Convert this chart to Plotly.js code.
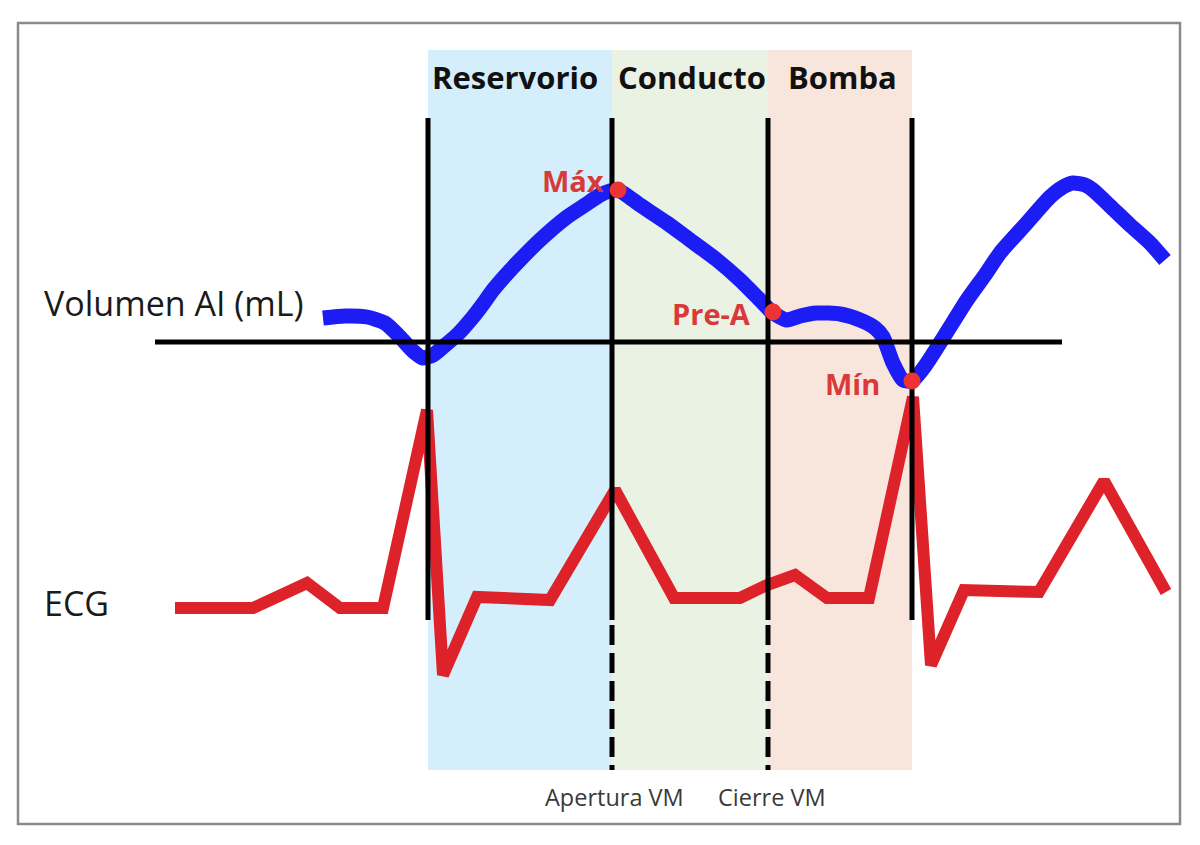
<!DOCTYPE html>
<html>
<head>
<meta charset="utf-8">
<script src="https://cdn.plot.ly/plotly-3.0.1.min.js"></script>
<style>html,body{margin:0;padding:0;background:#fff;}#chart{width:1200px;height:845px;}</style>
</head>
<body>
<div id="chart"></div>
<script>
// Time axis (arbitrary units) and signal level (arbitrary units, downward = larger)
const volTime = [323, 345, 367, 385, 400, 413, 423, 433, 443, 458, 473, 483, 493, 505, 517, 540, 567, 585, 600, 610, 618, 640, 667, 690, 717, 740, 760, 773, 787, 800, 817, 840, 860, 875, 883, 893, 903, 912, 925, 945, 967, 985, 1000, 1025, 1050, 1063, 1073, 1085, 1093, 1110, 1130, 1150, 1165];
const volValue = [318, 316, 317, 323, 337, 351, 358, 355, 347, 334, 317, 304, 290, 276, 263, 240, 217, 205, 195, 191, 190, 205, 223, 240, 260, 280, 300, 313, 320, 316, 313, 314, 320, 328, 337, 363, 380, 381, 366, 335, 300, 275, 253, 225, 197, 187, 183, 185, 190, 206, 225, 243, 260];

const ecgTime = [175, 253, 307, 340, 383, 427, 443, 477, 550, 615, 674, 740, 767, 795, 827, 869, 913, 931, 964, 1039, 1104, 1166];
const ecgValue = [608, 608, 583, 608, 608, 410, 675, 597, 600, 490, 598, 598, 585, 575, 598, 598, 397, 665, 590, 592, 481, 592];

const baselineTime = [155, 1062];
const baselineValue = [342, 342];

const phaseNames = ["Reservorio", "Conducto", "Bomba"];
const phaseBounds = [428, 612, 768, 912];
const phaseColors = ["#d5eefb", "#eaf2e4", "#f8e6dc"];
const phaseTop = 50, phaseBottom = 770;
const lineTop = 118, lineSolidEnd = 620;

const eventLabels = ["Apertura VM", "Cierre VM"];
const eventTimes = [612, 768];

const pointNames = ["Máx", "Pre-A", "Mín"];
const pointTime = [618, 773, 912];
const pointValue = [190, 312, 381];

const traces = [];
traces.push({x: volTime, y: volValue, mode: "lines", line: {color: "#1c1cf5", width: 15, shape: "spline", smoothing: 0.6}, hoverinfo: "skip"});
traces.push({x: ecgTime, y: ecgValue, mode: "lines", line: {color: "#de2229", width: 12, shape: "linear"}, hoverinfo: "skip"});
traces.push({x: baselineTime, y: baselineValue, mode: "lines", line: {color: "#000", width: 5}, hoverinfo: "skip"});
phaseBounds.forEach(t => {
  traces.push({x: [t, t], y: [lineTop, lineSolidEnd], mode: "lines", line: {color: "#000", width: 5}, hoverinfo: "skip"});
});
eventTimes.forEach(t => {
  traces.push({x: [t, t], y: [lineSolidEnd + 5, phaseBottom], mode: "lines", line: {color: "#000", width: 5, dash: "20px,8px"}, hoverinfo: "skip"});
});
traces.push({x: pointTime, y: pointValue, mode: "markers", marker: {color: "#ec3434", size: 17}, hoverinfo: "skip"});

const shapes = [];
for (let i = 0; i < phaseNames.length; i++) {
  shapes.push({type: "rect", xref: "x", yref: "y", x0: phaseBounds[i], x1: phaseBounds[i+1], y0: phaseTop, y1: phaseBottom, fillcolor: phaseColors[i], line: {width: 0}, layer: "below"});
}
shapes.push({type: "rect", xref: "paper", yref: "paper", x0: 18/1200, x1: 1180/1200, y0: 1 - 23/845, y1: 1 - 824/845, line: {color: "#8a8a8a", width: 2.5}, fillcolor: "rgba(0,0,0,0)"});

const annotations = [];
const F = "Open Sans, sans-serif";
const headerLeft = [430, 616, 786];
for (let i = 0; i < phaseNames.length; i++) {
  annotations.push({x: headerLeft[i], y: 77, xref: "x", yref: "y", text: "<b>" + phaseNames[i] + "</b>", showarrow: false, font: {family: F, size: 31, color: "#111"}, xanchor: "left", yanchor: "middle"});
}
const eventLeft = [543, 716];
eventLabels.forEach((lab, i) => {
  annotations.push({x: eventLeft[i], y: 797, xref: "x", yref: "y", text: lab, showarrow: false, font: {family: F, size: 23.5, color: "#3a3a3a"}, xanchor: "left", yanchor: "middle"});
});
const labelDx = [-12, -20, -30];
const labelDy = [-10, 1, 2];
pointNames.forEach((n, i) => {
  annotations.push({x: pointTime[i] + labelDx[i], y: pointValue[i] + labelDy[i], xref: "x", yref: "y", text: "<b>" + n + "</b>", showarrow: false, font: {family: F, size: 29, color: "#d83a3a"}, xanchor: "right", yanchor: "middle"});
});
annotations.push({x: 42, y: 303, xref: "x", yref: "y", text: "Volumen AI (mL)", showarrow: false, font: {family: F, size: 34, color: "#1a1a1a"}, xanchor: "left", yanchor: "middle"});
annotations.push({x: 42, y: 603, xref: "x", yref: "y", text: "ECG", showarrow: false, font: {family: F, size: 34, color: "#1a1a1a"}, xanchor: "left", yanchor: "middle"});

const layout = {
  width: 1200, height: 845,
  margin: {l: 0, r: 0, t: 0, b: 0},
  paper_bgcolor: "#fff", plot_bgcolor: "#fff",
  showlegend: false,
  xaxis: {range: [0, 1200], visible: false, fixedrange: true},
  yaxis: {range: [845, 0], visible: false, fixedrange: true},
  shapes: shapes,
  annotations: annotations
};
Plotly.newPlot("chart", traces, layout, {displayModeBar: false, staticPlot: true});
</script>
</body>
</html>
